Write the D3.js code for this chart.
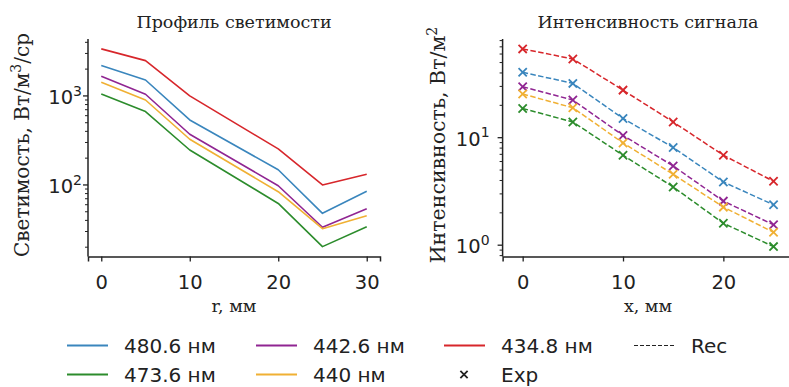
<!DOCTYPE html>
<html>
<head>
<meta charset="utf-8">
<script src="https://cdn.jsdelivr.net/npm/d3@7"></script>
<style>
  html, body { margin: 0; padding: 0; background: #fff; }
  svg { display: block; }
  .serif { font-family: "DejaVu Serif", serif; }
  .sans { font-family: "DejaVu Sans", sans-serif; }
</style>
</head>
<body>
<svg id="chart" width="789" height="387"></svg>
<script>
// Wavelength series (legend order)
const seriesNames = ["480.6 нм", "473.6 нм", "442.6 нм", "440 нм", "434.8 нм"];
const seriesColors = ["#3a86bd", "#2c8c2c", "#902592", "#f0b033", "#d7262b"];

// Luminosity profile vs radius r, mm
const rValues = [0, 5, 10, 20, 25, 30];
const lum480 = [2190, 1510, 537, 148, 48, 85];
const lum473 = [1053, 667, 247, 62, 20.3, 34];
const lum442 = [1665, 1045, 371, 98, 33.5, 54];
const lum440 = [1425, 900, 326, 84, 32.3, 45];
const lum434 = [3375, 2490, 1000, 254, 100, 132];

// Signal intensity vs x, mm
const xValues = [0, 5, 10, 15, 20, 25];
const int480 = [40.6, 32, 15.1, 8.1, 3.87, 2.38];
const int473 = [18.7, 14, 6.87, 3.48, 1.6, 0.97];
const int442 = [29.8, 22.4, 10.5, 5.46, 2.57, 1.55];
const int440 = [25.5, 19, 8.94, 4.57, 2.26, 1.32];
const int434 = [67, 54, 27.7, 14.0, 6.87, 3.93];

// Axis ticks
const leftXTicks = [0, 10, 20, 30];
const rightXTicks = [0, 10, 20];
const leftYDecades = [2, 3];
const rightYDecades = [0, 1];

const lumSeries = [lum480, lum473, lum442, lum440, lum434];
const intSeries = [int480, int473, int442, int440, int434];

const svg = d3.select("#chart");
const INK = "#222";

function logPad(arrays) {
  const all = arrays.flat();
  const lo = Math.log10(d3.min(all)), hi = Math.log10(d3.max(all));
  const m = (hi - lo) * 0.05;
  return [Math.pow(10, lo - m), Math.pow(10, hi + m)];
}

function drawPanel(opt) {
  const g = svg.append("g");
  const x = d3.scaleLinear().domain(opt.xDomain).range(opt.xRange);
  const y = d3.scaleLog().domain(opt.yDomain).range([opt.bottom, opt.top]);

  // x axis
  const xa = d3.axisBottom(x).tickValues(opt.xTicks).tickSize(5).tickPadding(4).tickFormat(d3.format("d"));
  const gx = g.append("g").attr("transform", `translate(0,${opt.bottom})`).call(xa);
  gx.select(".domain").attr("stroke", INK).attr("stroke-width", 1.5);
  gx.selectAll(".tick line").attr("stroke", INK).attr("stroke-width", 1.3);
  gx.selectAll(".tick text").attr("class", "sans").attr("font-size", 19.5).attr("fill", INK)
    .attr("y", 13).attr("dy", "0.98em");

  // y axis: log, decade labels plus minor ticks
  const [d0, d1] = opt.yDomain;
  const minor = [];
  for (let e = Math.floor(Math.log10(d0)); e <= Math.ceil(Math.log10(d1)); e++) {
    for (let k = 2; k <= 9; k++) {
      const v = k * Math.pow(10, e);
      if (v >= d0 && v <= d1) minor.push(v);
    }
  }
  const gy = g.append("g").attr("transform", `translate(${opt.xRange[0]},0)`);
  gy.append("line").attr("x1", 0).attr("x2", 0).attr("y1", opt.top).attr("y2", opt.bottom)
    .attr("stroke", INK).attr("stroke-width", 1.5);
  gy.selectAll("line.minor").data(minor).join("line").attr("class", "minor")
    .attr("x1", -3).attr("x2", 0).attr("y1", d => y(d)).attr("y2", d => y(d))
    .attr("stroke", INK).attr("stroke-width", 1);
  const decades = opt.yDecades.map(e => Math.pow(10, e));
  gy.selectAll("line.major").data(decades).join("line").attr("class", "major")
    .attr("x1", -5).attr("x2", 0).attr("y1", d => y(d)).attr("y2", d => y(d))
    .attr("stroke", INK).attr("stroke-width", 1.3);
  const lab = gy.selectAll("text.dec").data(opt.yDecades).join("text").attr("class", "dec sans")
    .attr("x", opt.yTickGap).attr("y", e => y(Math.pow(10, e))).attr("dy", "0.42em")
    .attr("text-anchor", "end").attr("font-size", 19.5).attr("fill", INK);
  lab.append("tspan").text("10");
  lab.append("tspan").attr("font-size", 14).attr("dy", "-0.6em").text(e => String(e));

  // title and axis labels
  g.append("text").attr("class", "serif").attr("x", opt.titleX).attr("y", 28)
    .attr("text-anchor", "middle").attr("font-size", 17.5).attr("fill", INK).text(opt.title);
  g.append("text").attr("class", "serif").attr("x", opt.titleX).attr("y", 312)
    .attr("text-anchor", "middle").attr("font-size", 17.5).attr("fill", INK).text(opt.xLabel);
  const yl = g.append("text").attr("class", "serif")
    .attr("transform", `translate(${opt.yLabelX},${opt.yLabelY}) rotate(-90)`)
    .attr("text-anchor", "middle").attr("font-size", opt.yLabelSize).attr("fill", INK);
  opt.yLabel(yl);

  return { g, x, y };
}

// Left panel: luminosity
const L = drawPanel({
  xDomain: [-1.5, 31.5], xRange: [88, 380], xTicks: leftXTicks,
  yDomain: logPad(lumSeries), top: 39, bottom: 256.5, yDecades: leftYDecades, yTickGap: -6,
  title: "Профиль светимости", titleX: 234, xLabel: "r, мм",
  yLabelX: 29, yLabelY: 145, yLabelSize: 20,
  yLabel: t => {
    t.append("tspan").text("Светимость, Вт/м");
    t.append("tspan").attr("font-size", 14).attr("dy", "-0.6em").text("3");
    t.append("tspan").attr("dy", "0.42em").text("/ср");
  }
});
const lineL = d3.line().x((d, i) => L.x(rValues[i])).y(d => L.y(d));
L.g.selectAll("path.series").data(lumSeries).join("path").attr("class", "series")
  .attr("d", lineL).attr("fill", "none").attr("stroke", (d, i) => seriesColors[i])
  .attr("stroke-width", 1.6).attr("stroke-linejoin", "round");

// Right panel: intensity
const R = drawPanel({
  xDomain: [-2, 27.1], xRange: [502.6, 794.6], xTicks: rightXTicks,
  yDomain: logPad(intSeries), top: 39, bottom: 256.5, yDecades: rightYDecades, yTickGap: -13,
  title: "Интенсивность сигнала", titleX: 648, xLabel: "x, мм",
  yLabelX: 445, yLabelY: 145, yLabelSize: 20.5,
  yLabel: t => {
    t.append("tspan").text("Интенсивность, Вт/м");
    t.append("tspan").attr("font-size", 14).attr("dy", "-0.6em").text("2");
  }
});
const lineR = d3.line().x((d, i) => R.x(xValues[i])).y(d => R.y(d));
R.g.selectAll("path.series").data(intSeries).join("path").attr("class", "series")
  .attr("d", lineR).attr("fill", "none").attr("stroke", (d, i) => seriesColors[i])
  .attr("stroke-width", 1.5).attr("stroke-dasharray", "5.5,2.4");
const pts = intSeries.flatMap((arr, si) => arr.map((v, i) => ({ x: xValues[i], v, si })));
const sym = d3.symbol().type(d3.symbolX).size(46);
R.g.selectAll("path.mark").data(pts).join("path").attr("class", "mark")
  .attr("transform", d => `translate(${R.x(d.x)},${R.y(d.v)})`)
  .attr("d", sym()).attr("fill", "none").attr("stroke", d => seriesColors[d.si]).attr("stroke-width", 1.8);

// Legend, four columns
const legendItems = [
  { col: 0, row: 0, kind: "line", color: seriesColors[0], label: seriesNames[0] },
  { col: 0, row: 1, kind: "line", color: seriesColors[1], label: seriesNames[1] },
  { col: 1, row: 0, kind: "line", color: seriesColors[2], label: seriesNames[2] },
  { col: 1, row: 1, kind: "line", color: seriesColors[3], label: seriesNames[3] },
  { col: 2, row: 0, kind: "line", color: seriesColors[4], label: seriesNames[4] },
  { col: 2, row: 1, kind: "x", color: INK, label: "Exp" },
  { col: 3, row: 0, kind: "dash", color: INK, label: "Rec" }
];
const colX = [67, 256, 444, 634];
const rowY = [345.5, 374.5];
const lg = svg.append("g");
legendItems.forEach(it => {
  const x0 = colX[it.col], yy = rowY[it.row];
  if (it.kind === "line" || it.kind === "dash") {
    lg.append("line").attr("x1", x0).attr("x2", x0 + 41).attr("y1", yy).attr("y2", yy)
      .attr("stroke", it.color).attr("stroke-width", it.kind === "dash" ? 1.2 : 2)
      .attr("stroke-dasharray", it.kind === "dash" ? "4,2" : null);
  } else {
    lg.append("path").attr("transform", `translate(${x0 + 20},${yy})`)
      .attr("d", d3.symbol().type(d3.symbolX).size(36)()).attr("fill", "none")
      .attr("stroke", it.color).attr("stroke-width", 1.8);
  }
  lg.append("text").attr("class", "sans").attr("x", x0 + 57).attr("y", yy).attr("dy", "0.36em")
    .attr("font-size", 20).attr("fill", INK).text(it.label);
});
</script>
</body>
</html>
